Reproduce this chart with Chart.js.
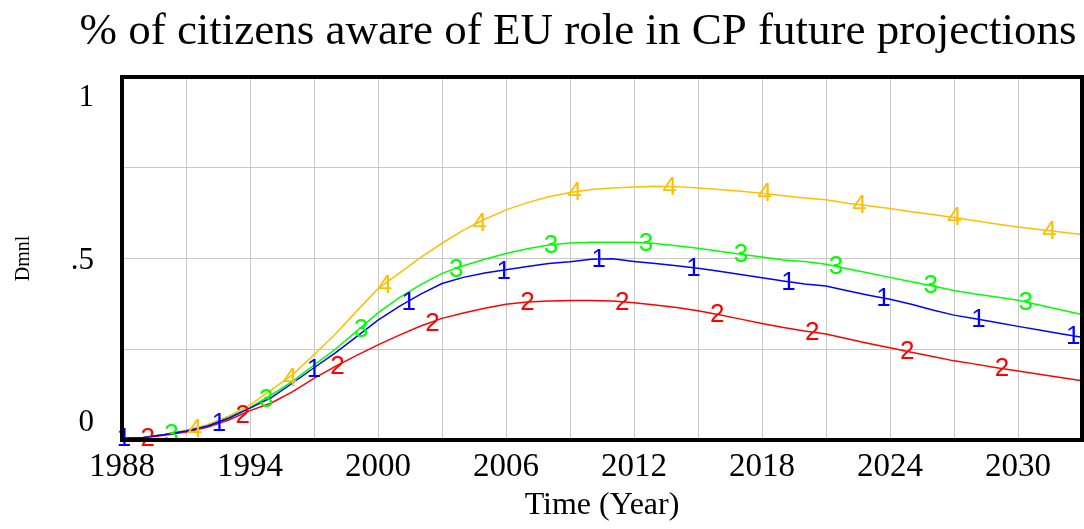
<!DOCTYPE html>
<html>
<head>
<meta charset="utf-8">
<script src="https://cdn.jsdelivr.net/npm/chart.js@4"></script>
<style>
  body { margin: 0; background: #fff; }
  #wrap { width: 1084px; height: 529px; }
</style>
</head>
<body>
<div id="wrap"><canvas id="myChart" width="1084" height="529"></canvas></div>
<script>
const chartTitle = "% of citizens aware of EU role in CP future projections";

const years = [1988, 1989, 1990, 1991, 1992, 1993, 1994, 1995, 1996, 1997,
               1998, 1999, 2000, 2001, 2002, 2003, 2004, 2005, 2006, 2007,
               2008, 2009, 2010, 2011, 2012, 2013, 2014, 2015, 2016, 2017,
               2018, 2019, 2020, 2021, 2022, 2023, 2024, 2025, 2026, 2027,
               2028, 2029, 2030, 2031, 2032, 2033];

// run 1 (blue)
const run1 = [0.005, 0.007, 0.015, 0.025, 0.038, 0.060, 0.088, 0.117, 0.157, 0.199,
              0.240, 0.285, 0.330, 0.368, 0.402, 0.431, 0.448, 0.460, 0.469, 0.478,
              0.486, 0.491, 0.498, 0.499, 0.492, 0.486, 0.480, 0.473, 0.465, 0.456,
              0.447, 0.438, 0.430, 0.424, 0.411, 0.399, 0.388, 0.374, 0.358, 0.344,
              0.334, 0.324, 0.313, 0.303, 0.293, 0.283];
// run 2 (red)
const run2 = [0.005, 0.006, 0.013, 0.022, 0.035, 0.055, 0.081, 0.102, 0.133, 0.170,
              0.203, 0.233, 0.262, 0.289, 0.314, 0.335, 0.350, 0.363, 0.374, 0.380,
              0.383, 0.384, 0.384, 0.383, 0.378, 0.372, 0.365, 0.356, 0.345, 0.333,
              0.321, 0.310, 0.300, 0.292, 0.279, 0.266, 0.254, 0.242, 0.230, 0.218,
              0.209, 0.199, 0.190, 0.181, 0.172, 0.163];
// run 3 (green)
const run3 = [0.005, 0.007, 0.015, 0.025, 0.039, 0.062, 0.090, 0.124, 0.162, 0.206,
              0.250, 0.300, 0.350, 0.392, 0.428, 0.459, 0.480, 0.498, 0.514, 0.527,
              0.537, 0.543, 0.545, 0.545, 0.545, 0.541, 0.535, 0.528, 0.520, 0.512,
              0.504, 0.496, 0.492, 0.484, 0.472, 0.460, 0.448, 0.436, 0.424, 0.412,
              0.402, 0.394, 0.385, 0.372, 0.359, 0.346];
// run 4 (orange)
const run4 = [0.005, 0.007, 0.015, 0.027, 0.042, 0.066, 0.097, 0.138, 0.180, 0.235,
              0.292, 0.355, 0.417, 0.460, 0.503, 0.542, 0.578, 0.608, 0.634, 0.654,
              0.670, 0.682, 0.690, 0.694, 0.697, 0.699, 0.698, 0.694, 0.690, 0.685,
              0.680, 0.673, 0.667, 0.662, 0.652, 0.645, 0.638, 0.629, 0.621, 0.613,
              0.604, 0.595, 0.587, 0.580, 0.573, 0.566];

const xTicks = [1988, 1994, 2000, 2006, 2012, 2018, 2024, 2030];
const yTicks = [0, 0.5, 1];
const yTickLabels = ["0", ".5", "1"];

const runs = [run1, run2, run3, run4];
const colors = ["#0000ff", "#ff0000", "#00ff00", "#ffbf00"];

// vensim style number markers along each line
const markerStep = 4.45;
const markerShift = 1.11;

function valueAt(vals, t) {
  let i = Math.floor(t - years[0]);
  if (i > vals.length - 2) i = vals.length - 2;
  const f = t - years[i];
  return vals[i] + (vals[i + 1] - vals[i]) * f;
}

const frameAndMarkers = {
  id: "frameAndMarkers",
  afterDatasetsDraw(chart) {
    const { ctx, chartArea, scales } = chart;
    ctx.save();
    ctx.font = '26px "Liberation Sans"';
    ctx.textAlign = "center";
    ctx.textBaseline = "middle";
    runs.forEach((vals, s) => {
      ctx.fillStyle = colors[s];
      for (let t = years[0] + s * markerShift; t <= years[years.length - 1]; t += markerStep) {
        ctx.fillText(String(s + 1), scales.x.getPixelForValue(t) + 2, scales.y.getPixelForValue(valueAt(vals, t)) + 1);
      }
    });
    ctx.strokeStyle = "#000";
    ctx.lineWidth = 4;
    ctx.strokeRect(chartArea.left, chartArea.top, chartArea.width, chartArea.height);

    ctx.fillStyle = "#000";
    ctx.font = '45px "Liberation Serif"';
    ctx.textBaseline = "alphabetic";
    ctx.fillText(chartTitle, 578, 44);
    ctx.restore();
  }
};

const ctx = document.getElementById("myChart");
Chart.defaults.color = "#000";

new Chart(ctx, {
  type: "line",
  data: {
    datasets: runs.map((vals, s) => ({
      label: String(s + 1),
      data: years.map((yr, i) => ({ x: yr, y: vals[i] })),
      borderColor: colors[s],
      backgroundColor: colors[s],
      borderWidth: 1.5,
      pointRadius: 0,
      tension: 0
    }))
  },
  options: {
    responsive: false,
    animation: false,
    layout: { padding: { top: 77, right: 2, left: 0, bottom: 0 } },
    plugins: {
      legend: { display: false },
      tooltip: { enabled: false },
      title: { display: false }
    },
    scales: {
      x: {
        type: "linear",
        min: 1988,
        max: 2033,
        afterFit(scale) {
          scale.height = 89;
          scale.paddingLeft = 0;
          scale.paddingRight = 0;
        },
        border: { display: false },
        grid: { color: "#c8c8c8", lineWidth: 1, drawTicks: false },
        ticks: {
          stepSize: 3,
          autoSkip: false,
          maxRotation: 0,
          padding: 8,
          color: "#000",
          font: { family: "Liberation Serif", size: 33 },
          callback: v => xTicks.includes(v) ? String(v) : ""
        },
        title: {
          display: true,
          text: "Time (Year)",
          color: "#000",
          font: { family: "Liberation Serif", size: 32 }
        }
      },
      y: {
        min: 0,
        max: 1,
        afterFit(scale) { scale.width = 122; },
        border: { display: false },
        grid: { color: "#c8c8c8", lineWidth: 1, drawTicks: false },
        ticks: {
          stepSize: 0.25,
          padding: 28,
          labelOffset: 2,
          color: "#000",
          font: { family: "Liberation Serif", size: 31, lineHeight: 1.23 },
          callback: v => {
            const k = yTicks.indexOf(v);
            if (k < 0) return "";
            if (v === yTicks[yTicks.length - 1]) return ["", yTickLabels[k]]; // push top label down
            if (v === yTicks[0]) return [yTickLabels[k], ""]; // push bottom label up
            return yTickLabels[k];
          }
        },
        title: {
          display: true,
          text: "Dmnl",
          color: "#000",
          font: { family: "Liberation Serif", size: 20, lineHeight: 2.0 }
        }
      }
    }
  },
  plugins: [frameAndMarkers]
});
</script>
</body>
</html>
